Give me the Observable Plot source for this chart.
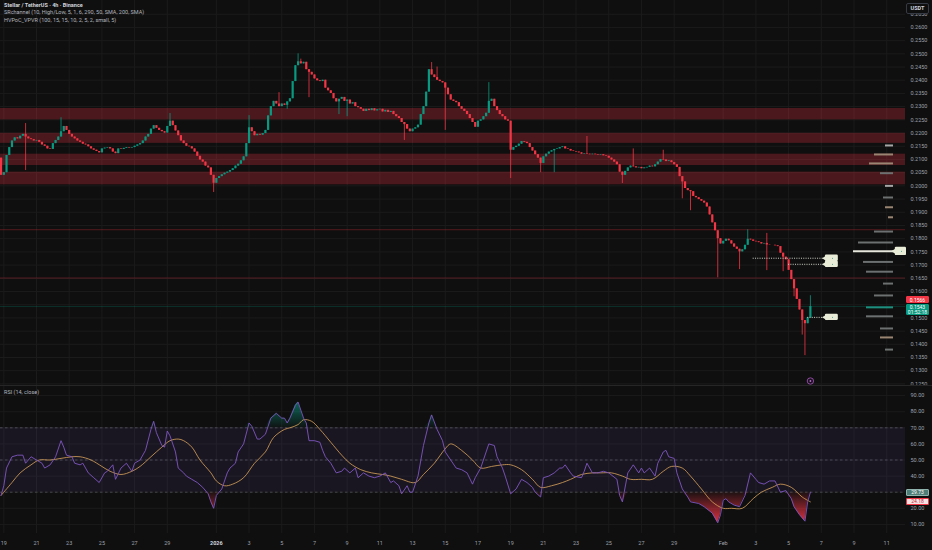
<!DOCTYPE html>
<html><head><meta charset="utf-8">
<script src="https://cdn.jsdelivr.net/npm/d3@7"></script>
<script src="https://cdn.jsdelivr.net/npm/@observablehq/plot@0.6"></script>
<style>
body{margin:0;background:#0f0f0f;font-family:Roboto,"Liberation Sans",sans-serif}
#wrap{position:relative;width:932px;height:550px;overflow:hidden;background:#0f0f0f}
.layer{position:absolute;left:0}
.badge{position:absolute;font-size:5px;line-height:5.2px;text-align:center;color:#fff;box-sizing:border-box}
.leg{position:absolute;left:4px;font-size:5.5px;line-height:7.4px;color:#b2b5be;white-space:nowrap}
</style></head><body>
<div id="wrap">
  <div id="price" class="layer" style="top:0"></div>
  <div id="vp" class="layer" style="top:0"></div>
  <div style="position:absolute;left:0;top:385px;width:932px;height:1px;background:#262626"></div>
  <div id="rsi" class="layer" style="top:386px"></div>
  <div class="leg" style="top:2px"><span style="color:#d1d4dc;font-weight:bold">Stellar / TetherUS · 4h · Binance</span><br>SRchannel (10, High/Low, 5, 1, 6, 290, 50, SMA, 200, SMA)<br>HVPoC_VPVR (100, 15, 15, 10, 2, 5, 2, small, 5)</div>
  <div class="leg" style="top:389px">RSI (14, close)</div>
  <div class="badge" style="left:906px;top:3px;width:23px;height:11px;border:1px solid #363a45;border-radius:2px;background:#0f0f0f;color:#d1d4dc;line-height:9px;font-size:5.5px;font-weight:bold">USDT</div>
</div>
<script>
// ---- price data (4h candles, first candle 2025-12-18 20:00 UTC) ----
const firstOpen = 0.2105;
const closes = [
0.2040,
0.2050,0.2115,0.2145,0.2170,0.2182,0.2178, // Dec 19
0.2188,0.2195,0.2185,0.2178,0.2175,0.2170, // Dec 20
0.2172,0.2165,0.2155,0.2150,0.2140,0.2138, // Dec 21
0.2160,0.2172,0.2185,0.2205,0.2225,0.2210, // Dec 22
0.2195,0.2185,0.2178,0.2170,0.2165,0.2158, // Dec 23
0.2155,0.2148,0.2140,0.2135,0.2130,0.2125, // Dec 24
0.2140,0.2143,0.2145,0.2140,0.2128,0.2122, // Dec 25
0.2140,0.2138,0.2142,0.2145,0.2143,0.2145, // Dec 26
0.2150,0.2155,0.2160,0.2170,0.2185,0.2195, // Dec 27
0.2215,0.2228,0.2218,0.2210,0.2205,0.2200, // Dec 28
0.2225,0.2245,0.2228,0.2208,0.2190,0.2170, // Dec 29
0.2160,0.2150,0.2148,0.2140,0.2128,0.2112, // Dec 30
0.2098,0.2090,0.2075,0.2068,0.2040,0.2010, // Dec 31
0.2028,0.2035,0.2042,0.2048,0.2052,0.2058, // Jan 1
0.2065,0.2075,0.2082,0.2095,0.2110,0.2160, // Jan 2
0.2220,0.2205,0.2190,0.2195,0.2192,0.2198, // Jan 3
0.2210,0.2265,0.2300,0.2320,0.2310,0.2300, // Jan 4
0.2310,0.2305,0.2318,0.2330,0.2395,0.2455, // Jan 5
0.2470,0.2462,0.2468,0.2440,0.2430,0.2420, // Jan 6
0.2405,0.2398,0.2395,0.2400,0.2370,0.2360, // Jan 7
0.2350,0.2330,0.2318,0.2328,0.2335,0.2320, // Jan 8
0.2325,0.2310,0.2315,0.2300,0.2296,0.2290, // Jan 9
0.2282,0.2290,0.2285,0.2292,0.2284,0.2288, // Jan 10
0.2290,0.2280,0.2286,0.2278,0.2282,0.2270, // Jan 11
0.2262,0.2255,0.2240,0.2232,0.2215,0.2205, // Jan 12
0.2215,0.2220,0.2230,0.2270,0.2300,0.2355, // Jan 13
0.2440,0.2420,0.2410,0.2400,0.2395,0.2390, // Jan 14
0.2370,0.2345,0.2325,0.2320,0.2315,0.2300, // Jan 15
0.2290,0.2282,0.2270,0.2255,0.2240,0.2222, // Jan 16
0.2245,0.2250,0.2262,0.2275,0.2320,0.2328, // Jan 17
0.2300,0.2285,0.2270,0.2262,0.2250,0.2245, // Jan 18
0.2135,0.2145,0.2150,0.2158,0.2168,0.2165, // Jan 19
0.2160,0.2145,0.2132,0.2118,0.2105,0.2085, // Jan 20
0.2110,0.2120,0.2128,0.2133,0.2138,0.2140, // Jan 21
0.2145,0.2148,0.2140,0.2138,0.2132,0.2130, // Jan 22
0.2128,0.2125,0.2120,0.2122,0.2120,0.2118, // Jan 23
0.2120,0.2118,0.2116,0.2118,0.2114,0.2112, // Jan 24
0.2105,0.2098,0.2090,0.2080,0.2052,0.2040, // Jan 25
0.2055,0.2068,0.2075,0.2072,0.2068,0.2070, // Jan 26
0.2065,0.2068,0.2070,0.2075,0.2072,0.2080, // Jan 27
0.2090,0.2100,0.2098,0.2092,0.2095,0.2088, // Jan 28
0.2080,0.2070,0.2035,0.2015,0.1990,0.1982, // Jan 29
0.1978,0.1960,0.1955,0.1948,0.1942,0.1935, // Jan 30
0.1920,0.1890,0.1860,0.1830,0.1800,0.1780, // Jan 31
0.1790,0.1798,0.1792,0.1780,0.1768,0.1760, // Feb 1
0.1750,0.1758,0.1775,0.1798,0.1795,0.1790, // Feb 2
0.1788,0.1785,0.1780,0.1782,0.1776,0.1775, // Feb 3
0.1775,0.1773,0.1770,0.1745,0.1730,0.1720, // Feb 4
0.1680,0.1645,0.1610,0.1570,0.1530,0.1490, // Feb 5
0.1478,0.1500,0.1543                       // Feb 6
];
// notable wicks (candle index -> price)
const highIdx = [9,22,62,91,102,109,110,158,160,179,215,232,243,274,281,297];
const highVal = [0.2236,0.2258,0.2274,0.2266,0.2353,0.2500,0.2480,0.2467,0.2450,0.2391,0.2187,0.2140,0.2135,0.1834,0.1820,0.1584];
const lowIdx = [9,78,105,113,124,127,148,163,187,198,203,228,250,253,263,271,281,287,291,294,295];
const lowVal = [0.2058,0.1975,0.2290,0.2334,0.2270,0.2262,0.2172,0.2210,0.2028,0.2050,0.2050,0.2009,0.1951,0.1906,0.1652,0.1683,0.1679,0.1675,0.1580,0.1435,0.1357];

// SR zones and levels
const zoneLow  = [0.2250,0.2161,0.2077,0.2004];
const zoneHigh = [0.2293,0.2199,0.2120,0.2052];
const levels = [0.1834,0.1651];
const lastPrice = 0.1543;
const redLabel = 0.1566;

// naked POC lines
const pocPrice = [0.1726,0.1703,0.1502];
const pocStart = ["2026-02-02T20:00Z","2026-02-05T00:00Z","2026-02-06T04:00Z"];
const pocLabelFrom = "2026-02-07T06:00Z", pocLabelTo = "2026-02-08T01:00Z";

// volume profile
const vpPrice = [0.2153,0.2119,0.2085,0.2048,0.2000,0.1956,0.1919,0.1881,0.1827,0.1786,0.1752,0.1712,0.1675,0.1630,0.1585,0.1540,0.1506,0.1460,0.1426,0.1380];
const vpVol   = [8,19,24,13,8,10,8,5,19,35,40,30,27,10,19,27,27,13,13,8];
const vpKind  = ["l","t","t","g","l","g","t","t","g","g","w","g","g","g","g","c","g","g","t","g"];

// RSI samples (candle index -> value)
const rsiIdx = [0,1,2,4,6,8,9,11,13,15,16,18,20,22,23,24,26,27,29,30,32,34,36,38,39,41,42,44,46,48,49,51,53,55,56,57,59,60,61,62,64,65,67,68,70,72,74,76,77,78,79,81,83,84,86,87,89,91,92,94,95,97,99,101,103,104,105,106,108,109,110,111,112,113,115,117,118,119,121,123,125,126,128,130,131,133,135,137,139,141,143,144,146,147,149,150,151,153,155,157,158,160,162,163,165,
167,169,171,173,174,176,178,179,181,182,184,185,187,189,191,193,195,196,198,199,201,203,205,206,207,209,210,213,214,215,217,219,221,223,226,227,228,230,232,234,235,236,238,240,241,243,244,245,247,248,250,252,253,256,258,261,263,264,265,266,267,269,271,273,275,277,278,280,282,284,286,288,290,291,293,295,296,297];
const rsiVal = [28,34,45,52,53,53,48,52,50,48,45,47,52,62,58,53,52,48,47,48,42,39,36,42,43,47,38,45,48,43,48,50,56,69,74,67,59,58,68,65,55,45,42,40,38,36,33,29,24,20,28,32,42,45,48,55,60,73,71,63,63,66,76,79,76,76,73,76,84,86,81,76,73,62,62,61,56,52,48,42,43,45,42,45,39,42,40,39,40,42,36,37,34,29,34,30,30,40,59,73,78,69,62,55,50,
45,44,42,35,39,45,55,60,59,52,45,40,29,32,38,36,33,30,27,39,40,42,45,45,47,42,40,39,43,48,42,42,43,42,38,28,24,42,47,42,45,42,45,40,48,55,56,52,51,42,32,27,24,23,21,17,11,16,25,26,24,22,21,28,42,38,36,35,37,37,30,31,26,21,16,12,24,30];
const maIdx = [0,4,7,11,14,18,22,26,29,33,37,40,44,48,51,55,59,62,65,67,70,73,77,79,82,85,89,93,97,100,104,106,109,111,114,117,121,125,128,132,136,140,143,147,152,155,159,163,165,169,173,176,180,184,187,191,195,198,202,206,209,213,217,220,224,228,231,235,239,243,246,250,253,257,261,265,268,272,276,279,283,286,290,294,297];
const maVal = [28,36,42,47,50,50,51,52,52,50,46,43,41,43,46,52,58,62,63,62,58,50,42,37,34,35,39,48,55,64,69,70,72,75,74,69,61,53,48,44,42,41,40,38,36,41,48,57,60,56,50,45,46,47,47,44,38,33,34,36,38,41,42,42,42,40,38,38,38,43,46,45,40,32,24,20,20,20,26,30,33,35,33,27,24];
const rsiLast = 29.73, maLast = 24.18;

// axis ticks
const tickDates = ["2025-12-19","2025-12-21","2025-12-23","2025-12-25","2025-12-27","2025-12-29","2026-01-01","2026-01-03","2026-01-05","2026-01-07","2026-01-09","2026-01-11","2026-01-13","2026-01-15","2026-01-17","2026-01-19","2026-01-21","2026-01-23","2026-01-25","2026-01-27","2026-01-29","2026-02-01","2026-02-03","2026-02-05","2026-02-07","2026-02-09","2026-02-11"];
const tickLabels = ["19","21","23","25","27","29","2026","3","5","7","9","11","13","15","17","19","21","23","25","27","29","Feb","3","5","7","9","11"];
const priceTicks = [0.1250,0.1300,0.1350,0.1400,0.1450,0.1500,0.1550,0.1600,0.1650,0.1700,0.1750,0.1800,0.1850,0.1900,0.1950,0.2000,0.2050,0.2100,0.2150,0.2200,0.2250,0.2300,0.2350,0.2400,0.2450,0.2500,0.2550,0.2600,0.2650];
// labels hidden behind the last-value badges in the reference
const priceHidden = [0.1550];
const rsiTicks = [10,20,30,40,50,60,70,80,90];
const rsiHidden = [30];

// ---- build ----
const UP = "#089981", DN = "#f23645", GRID = "#1b1b1b", TXT = "#9ea1aa";
const H4 = 4*3600e3, DAY = 864e5;
const T0 = Date.UTC(2025,11,18,20);
const tOf = i => new Date(T0 + i*H4);
const pxPerDay = 16.35;
const xStart = new Date(Date.UTC(2025,11,19) - 3.3/pxPerDay*DAY);
const xEnd = new Date(xStart.getTime() + 905/pxPerDay*DAY);
const xDomain = [xStart, xEnd];
const yPrice = [0.1244, 0.2702];

const hi = new Map(highIdx.map((k,j)=>[k,highVal[j]]));
const lo = new Map(lowIdx.map((k,j)=>[k,lowVal[j]]));
const candles = closes.map((c,i)=>{
  const o = i===0 ? firstOpen : closes[i-1];
  return {t:tOf(i), o, c, h:Math.max(o,c,hi.get(i) ?? 0), l:Math.min(o,c,lo.get(i) ?? 1), up:c>=o};
});
const ups = candles.filter(d=>d.up), dns = candles.filter(d=>!d.up);
const ticks = tickDates.map((d,i)=>({t:new Date(d+"T00:00Z"), label:tickLabels[i]}));
const zones = zoneLow.map((l,i)=>({l, h:zoneHigh[i]}));
const pocs = pocPrice.map((p,i)=>({p, s:new Date(pocStart[i])}));
const pFrom = new Date(pocLabelFrom), pTo = new Date(pocLabelTo);
const baseStyle = {background:"transparent", fontFamily:"Roboto, 'Liberation Sans', sans-serif", fontSize:"5.5px", color:TXT};

const price = Plot.plot({
  width:932, height:386, marginLeft:0, marginRight:27, marginTop:0, marginBottom:1,
  style: baseStyle,
  x:{type:"utc", domain:xDomain, axis:null},
  y:{domain:yPrice, axis:null},
  marks:[
    Plot.ruleX(ticks, {x:"t", stroke:GRID}),
    Plot.ruleY(priceTicks, {stroke:GRID}),
    Plot.rect(zones, {y1:"l", y2:"h", fill:"#f23645", fillOpacity:0.27}),
    Plot.ruleY(levels, {stroke:"#f23645", strokeOpacity:0.38, strokeWidth:0.8}),
    Plot.ruleY([lastPrice], {stroke:UP, strokeOpacity:0.3, strokeWidth:0.8}),
    Plot.ruleX(ups, {x:"t", y1:"l", y2:"h", stroke:UP, strokeWidth:0.8}),
    Plot.ruleX(dns, {x:"t", y1:"l", y2:"h", stroke:DN, strokeWidth:0.8}),
    Plot.ruleX(ups, {x:"t", y1:"o", y2:"c", stroke:UP, strokeWidth:2.2}),
    Plot.ruleX(dns, {x:"t", y1:"o", y2:"c", stroke:DN, strokeWidth:2.2}),
    Plot.ruleY(pocs, {y:"p", x1:"s", x2:()=>pFrom, stroke:"#cfd2c8", strokeWidth:1, strokeDasharray:"1,1.3"}),
    Plot.rect(pocs, {x1:()=>pFrom, x2:()=>pTo, y1:d=>d.p-0.0012, y2:d=>d.p+0.0012, fill:"#e9edd8", rx:1.2}),
    Plot.dot(pocs, {x:()=>pFrom, y:"p", symbol:"triangle", rotate:-90, r:2.2, fill:"#e9edd8"}),
    Plot.dot(pocs, {x:()=>new Date(pFrom.getTime()+0.55*(pTo-pFrom)), y:"p", r:0.5, fill:"#2a8f80"}),
    Plot.dot([tOf(candles.length-1)], {x:d=>d, frameAnchor:"bottom", dy:-4.5, r:3.2, stroke:"#8e4a9e", strokeWidth:1, fill:"#1a1020"}),
    Plot.dot([tOf(candles.length-1)], {x:d=>d, frameAnchor:"bottom", dy:-4.5, r:0.9, fill:"#b06ac0"}),
    Plot.axisY(priceTicks.filter(v=>!priceHidden.includes(v)), {anchor:"right", tickSize:0, tickPadding:5, tickFormat:d=>d.toFixed(4), fill:TXT})
  ]
});
document.getElementById("price").append(price);

// volume profile overlay
const vpColor = {l:"#a6a6a6", g:"#6c7070", t:"#9a8572", w:"#e6e6dc", c:"#1e8e7e"};
const vpRows = vpPrice.map((p,i)=>({p, v:vpVol[i], k:vpKind[i]}));
const vpMarks = Object.keys(vpColor).map(k=>Plot.ruleY(vpRows.filter(d=>d.k===k), {y:"p", x1:()=>0, x2:"v", stroke:vpColor[k], strokeWidth:2}));
const pocVP = vpRows.filter(d=>d.k==="w");
const vp = Plot.plot({
  width:932, height:386, marginLeft:0, marginRight:0, marginTop:0, marginBottom:1,
  style: baseStyle,
  x:{domain:[0,45], range:[893,848], axis:null},
  y:{domain:yPrice, axis:null},
  marks:[
    ...vpMarks,
    Plot.rect(pocVP, {x1:()=>-1.8, x2:()=>-13, y1:d=>d.p-0.0016, y2:d=>d.p+0.0016, fill:"#e9edd8", rx:1.2}),
    Plot.dot(pocVP, {x:()=>-1.6, y:"p", symbol:"triangle", rotate:-90, r:2.6, fill:"#e9edd8"}),
    Plot.dot(pocVP, {x:()=>-8, y:"p", r:0.5, fill:"#2a8f80"})
  ]
});
document.getElementById("vp").append(vp);

// RSI pane
const rsiData = rsiIdx.map((k,i)=>({t:tOf(k), v:rsiVal[i]}));
const maData = maIdx.map((k,i)=>({t:tOf(k), v:maVal[i]}));
const gradients = () => {
  const defs = d3.create("svg:defs");
  const g1 = defs.append("linearGradient").attr("id","rsiUp").attr("x1",0).attr("y1",0).attr("x2",0).attr("y2",1);
  g1.append("stop").attr("offset","0%").attr("stop-color","#089981").attr("stop-opacity",0.65);
  g1.append("stop").attr("offset","100%").attr("stop-color","#089981").attr("stop-opacity",0.04);
  const g2 = defs.append("linearGradient").attr("id","rsiDn").attr("x1",0).attr("y1",0).attr("x2",0).attr("y2",1);
  g2.append("stop").attr("offset","0%").attr("stop-color","#f23645").attr("stop-opacity",0.05);
  g2.append("stop").attr("offset","100%").attr("stop-color","#f23645").attr("stop-opacity",0.9);
  return defs.node();
};
const rsi = Plot.plot({
  width:932, height:164, marginLeft:0, marginRight:27, marginTop:0, marginBottom:17,
  style: baseStyle,
  x:{type:"utc", domain:xDomain, axis:null},
  y:{domain:[4.35,95.65], axis:null},
  marks:[
    gradients,
    Plot.ruleX(ticks, {x:"t", stroke:GRID}),
    Plot.ruleY(rsiTicks, {stroke:GRID}),
    Plot.rect([{a:30,b:70}], {y1:"a", y2:"b", fill:"#7e57c2", fillOpacity:0.1}),
    Plot.ruleY([70,50,30], {stroke:"#787b86", strokeOpacity:0.7, strokeWidth:0.7, strokeDasharray:"2.5,2.5"}),
    Plot.areaY(rsiData, {x:"t", y1:()=>70, y2:d=>Math.max(d.v,70), fill:"url(#rsiUp)"}),
    Plot.areaY(rsiData, {x:"t", y1:d=>Math.min(d.v,30), y2:()=>30, fill:"url(#rsiDn)"}),
    Plot.line(maData, {x:"t", y:"v", stroke:"#dba55c", strokeWidth:0.8, curve:"catmull-rom"}),
    Plot.line(rsiData, {x:"t", y:"v", stroke:"#7e57c2", strokeWidth:0.9}),
    Plot.axisY(rsiTicks.filter(v=>!rsiHidden.includes(v)), {anchor:"right", tickSize:0, tickPadding:5, tickFormat:d=>d.toFixed(2), fill:TXT}),
    Plot.text(ticks.filter(d=>d.label!=="2026"), {x:"t", text:"label", frameAnchor:"bottom", dy:11, fill:TXT}),
    Plot.text(ticks.filter(d=>d.label==="2026"), {x:"t", text:"label", frameAnchor:"bottom", dy:11, fill:"#d1d4dc", fontWeight:"bold"})
  ]
});
document.getElementById("rsi").append(rsi);

// value badges on the right scale
const wrap = document.getElementById("wrap");
function badge(top, h, bg, border, color, html){
  const d = document.createElement("div");
  d.className = "badge";
  Object.assign(d.style, {left:"906px", top:top+"px", width:"23px", height:h+"px", background:bg, border:"0.5px solid "+border, color, borderRadius:"1px", paddingTop:"0.6px"});
  d.innerHTML = html;
  wrap.append(d);
}
const py = v => price.scale("y").apply(v);
const ry = v => 386 + rsi.scale("y").apply(v);
badge(py(redLabel)-3.8, 6.6, DN, DN, "#fff", redLabel.toFixed(4));
badge(py(lastPrice)-2.4, 11.6, UP, UP, "#fff", lastPrice.toFixed(4)+"<br>01:52:18");
badge(ry(rsiLast)-3.6, 7, "#4f7d78", "#8fb3ad", "#fff", rsiLast.toFixed(2));
badge(ry(maLast)-3.2, 7, "#f6e3e5", DN, "#c22a37", maLast.toFixed(2));
</script>
</body></html>
